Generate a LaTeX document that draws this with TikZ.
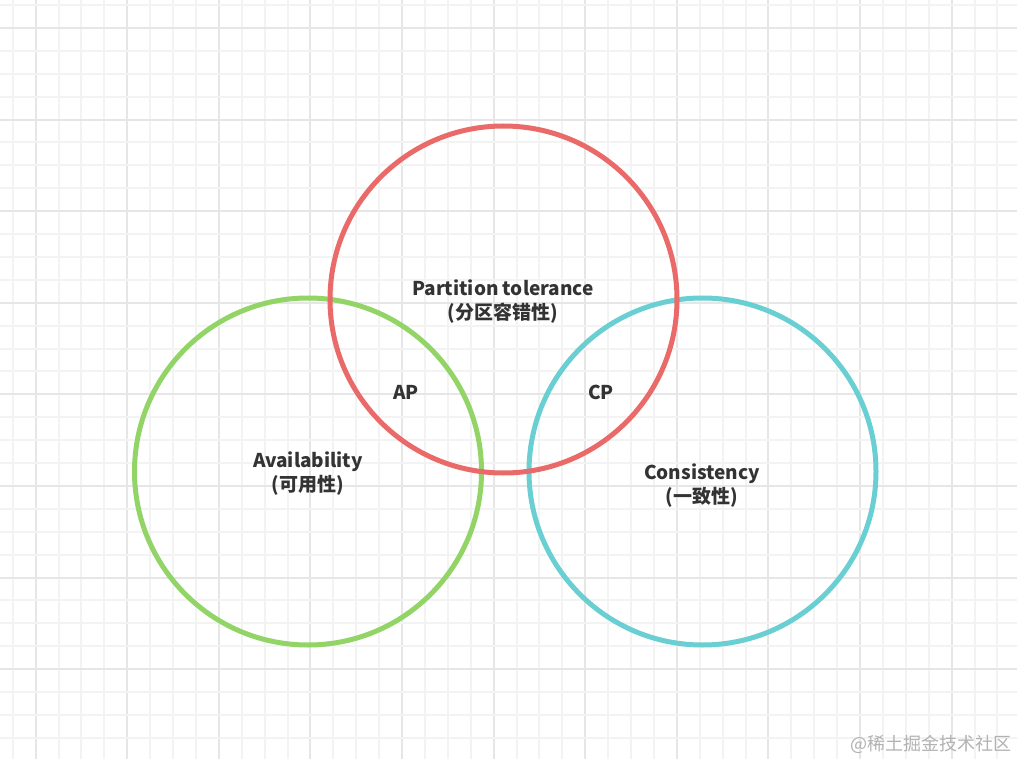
\documentclass[tikz,border=0pt]{standalone}
\usepackage{fontspec}
\setmainfont{Noto Sans CJK SC}
\usetikzlibrary{calc}

\definecolor{cred}{HTML}{E96A68}
\definecolor{cgreen}{HTML}{92D466}
\definecolor{cblue}{HTML}{69CFD2}
\definecolor{ctext}{HTML}{333333}
\definecolor{gminor}{HTML}{F3F3F3}
\definecolor{gmajor}{HTML}{E6E6E6}

\begin{document}
\begin{tikzpicture}[x=1pt,y=-1pt]
  % 画布大小
  \useasboundingbox (0,0) rectangle (1017,759);
  \fill[white] (0,0) rectangle (1017,759);

  % 背景网格（每 4 格一条粗线）
  \foreach \i in {0,...,44}{
    \pgfmathsetmacro{\x}{round(12.8+22.9*\i)}
    \pgfmathtruncatemacro{\m}{mod(\i,4)}
    \ifnum\m=1
      \draw[gmajor,line width=2pt] (\x,0) -- (\x,759);
    \else
      \draw[gminor,line width=1.5pt] (\x,0) -- (\x,759);
    \fi
  }
  \foreach \j in {0,...,33}{
    \pgfmathsetmacro{\y}{round(5.1+22.9*\j)}
    \pgfmathtruncatemacro{\m}{mod(\j,4)}
    \ifnum\m=1
      \draw[gmajor,line width=2pt] (0,\y) -- (1017,\y);
    \else
      \draw[gminor,line width=1.5pt] (0,\y) -- (1017,\y);
    \fi
  }

  % 三个圆的圆心与半径
  \def\R{173.5}
  \def\Px{503.5} \def\Py{299.5}
  \def\Ax{308}   \def\Ay{471.5}
  \def\Cx{702.5} \def\Cy{471.5}

  \draw[cgreen,line width=5pt] (\Ax,\Ay) circle (\R);
  \draw[cblue,line width=5pt] (\Cx,\Cy) circle (\R);
  \draw[cred,line width=5pt] (\Px,\Py) circle (\R);

  % 文字
  \tikzset{lbl/.style={text=ctext,align=center,font=\bfseries\fontsize{19}{24}\selectfont}}
  \node[lbl] (ptol) at (503,302) {Partition tolerance\\(分区容错性)};
  \node[lbl] (avail) at (308,474) {Availability\\(可用性)};
  \node[lbl] (cons) at (702,486) {Consistency\\(一致性)};
  \node[lbl] (ap) at (406,392) {AP};
  \node[lbl] (cp) at (601,392) {CP};

  % 水印
  \node[text=black!30,font=\fontsize{18}{20}\selectfont] (mark) at (931,744) {@稀土掘金技术社区};
\end{tikzpicture}
\end{document}
